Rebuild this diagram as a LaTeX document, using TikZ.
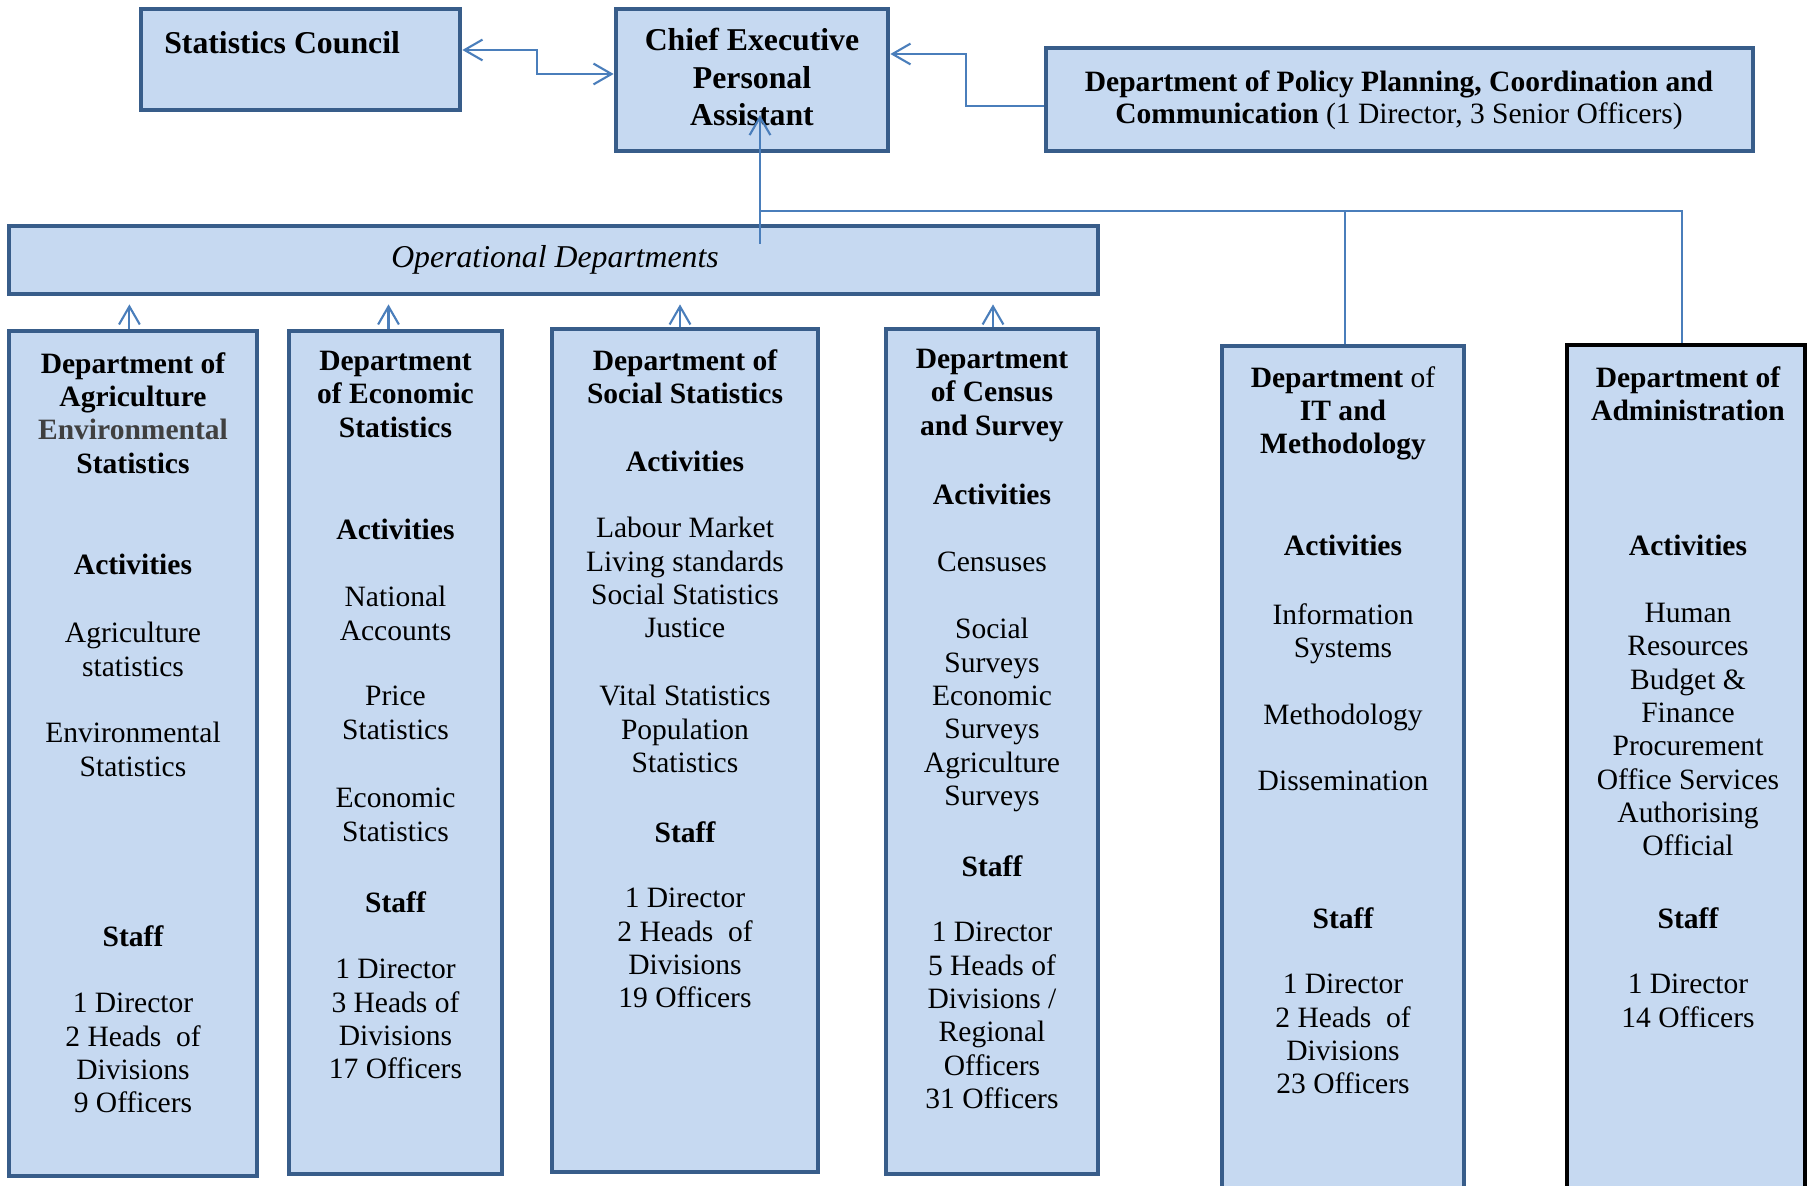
\documentclass[tikz,border=0pt]{standalone}
\usepackage{fontspec}
\setmainfont{Liberation Serif}
\usepackage{tikz}
\usetikzlibrary{fit}
\usetikzlibrary{arrows.meta}

\definecolor{boxline}{HTML}{385D8A}
\definecolor{boxfill}{HTML}{C6D9F1}
\definecolor{linkcol}{HTML}{4A7EBB}
\definecolor{envgray}{HTML}{404040}

\tikzset{
  orgbox/.style={draw=boxline, fill=boxfill, line width=3.4pt, inner sep=0pt},
  blackbox/.style={orgbox, draw=black},
  txt/.style={anchor=north, align=center, inner sep=0pt, font=\fontsize{21}{23.7}\selectfont},
  head/.style={txt, font=\fontsize{21}{23.7}\selectfont\bfseries},
  tophead/.style={txt, font=\fontsize{22.6}{26.7}\selectfont\bfseries},
  link/.style={draw=linkcol, line width=1.5pt},
  tree/.style={draw=linkcol, line width=1.1pt},
  >={Straight Barb[length=4.5mm,width=5.2mm]}
}

\begin{document}
\begin{tikzpicture}[x=0.25mm, y=-0.25mm]
        \useasboundingbox (0,0) rectangle (1808,1186);
        % top row
        \node[orgbox, fit={(141,9) (460,110)}] (sc) {};
        \node[tophead, anchor=north west] (sc-t) at (164,31) {Statistics Council};
        \node[orgbox, fit={(616,9) (888,151)}] (ce) {};
        \node[tophead] (ce-t) at (752,28) {Chief Executive\\Personal\\Assistant};
        \node[orgbox, fit={(1046,48) (1753,151)}] (ppc) {};
        \node[txt, font=\fontsize{21}{22.8}\selectfont] (ppc-t) at (1399,70) {\textbf{Department of Policy Planning, Coordination and}\\\textbf{Communication} (1 Director, 3 Senior Officers)};
        \node[orgbox, fit={(9,226) (1098,294)}] (ops) {};
        \node[txt, anchor=center, font=\fontsize{22.6}{26.7}\selectfont\itshape] (ops-t) at (555,260) {Operational Departments};

        % departments
        \node[orgbox, fit={(9,331) (257,1176)}] (agri) {};
        \node[head] (agri-t) at (133,352) {Department of\\Agriculture\\{\color{envgray}Environmental}\\Statistics};
        \node[head] (agri-a) at (133,554) {Activities};
        \node[txt] (agri-a1) at (133,622) {Agriculture\\statistics};
        \node[txt] (agri-a2) at (133,722) {Environmental\\Statistics};
        \node[head] (agri-s) at (133,925) {Staff};
        \node[txt] (agri-s1) at (133,993) {1 Director\\2 Heads~ of\\Divisions\\9 Officers};

        \node[orgbox, fit={(289,331) (502,1174)}] (econ) {};
        \node[head] (econ-t) at (395.5,351) {Department\\of Economic\\Statistics};
        \node[head] (econ-a) at (395.5,519) {Activities};
        \node[txt] (econ-a1) at (395.5,586) {National\\Accounts};
        \node[txt] (econ-a2) at (395.5,686) {Price\\Statistics};
        \node[txt] (econ-a3) at (395.5,788) {Economic\\Statistics};
        \node[head] (econ-s) at (395.5,891) {Staff};
        \node[txt] (econ-s1) at (395.5,959) {1 Director\\3 Heads of\\Divisions\\17 Officers};

        \node[orgbox, fit={(552,329) (818,1172)}] (soc) {};
        \node[head] (soc-t) at (685,349) {Department of\\Social Statistics};
        \node[head] (soc-a) at (685,451) {Activities};
        \node[txt] (soc-a1) at (685,517) {Labour Market\\Living standards\\Social Statistics\\Justice};
        \node[txt] (soc-a2) at (685,685) {Vital Statistics\\Population\\Statistics};
        \node[head] (soc-s) at (685,821) {Staff};
        \node[txt] (soc-s1) at (685,888) {1 Director\\2 Heads~ of\\Divisions\\19 Officers};

        \node[orgbox, fit={(886,329) (1098,1174)}] (cens) {};
        \node[head] (cens-t) at (992,349) {Department\\of Census\\and Survey};
        \node[head] (cens-a) at (992,484) {Activities};
        \node[txt] (cens-a1) at (992,552) {Censuses};
        \node[txt] (cens-a2) at (992,618) {Social\\Surveys\\Economic\\Surveys\\Agriculture\\Surveys};
        \node[head] (cens-s) at (992,855) {Staff};
        \node[txt] (cens-s1) at (992,922) {1 Director\\5 Heads of\\Divisions /\\Regional\\Officers\\31 Officers};

        \node[orgbox, fit={(1222,346) (1464,1200)}] (itm) {};
        \node[txt] (itm-t) at (1343,366) {\textbf{Department} of\\\textbf{IT and}\\\textbf{Methodology}};
        \node[head] (itm-a) at (1343,535) {Activities};
        \node[txt] (itm-a1) at (1343,603) {Information\\Systems};
        \node[txt] (itm-a2) at (1343,704) {Methodology};
        \node[txt] (itm-a3) at (1343,771) {Dissemination};
        \node[head] (itm-s) at (1343,907) {Staff};
        \node[txt] (itm-s1) at (1343,974) {1 Director\\2 Heads~ of\\Divisions\\23 Officers};

        \node[blackbox, fit={(1567,345) (1805,1200)}] (admin) {};
        \node[head] (admin-t) at (1688,366) {Department of\\Administration};
        \node[head] (admin-a) at (1688,535) {Activities};
        \node[txt] (admin-a1) at (1688,603) {Human\\Resources\\Budget \&\\Finance\\Procurement\\Office Services\\Authorising\\Official};
        \node[head] (admin-s) at (1688,907) {Staff};
        \node[txt] (admin-s1) at (1688,974) {1 Director\\14 Officers};

        % connectors
        \draw[link, <->] (sc.east |- 0,50) -- (537,50) |- (ce.west |- 0,74);
        \draw[link, ->] (ppc.west |- 0,106) -- (966,106) |- (ce.east |- 0,54);
        \coordinate (opsup) at (760,244);
        \coordinate (ceup) at (760,115);
        \coordinate (tee) at (760,211);
        \draw[link, ->] (opsup) -- (ceup);
        \draw[tree] (tee) -| ([xshift=0.5mm]itm.north);
        \draw[tree] (tee) -| ([xshift=-1mm]admin.north);
        \foreach \d/\dx in {agri/-0.9mm, econ/-1.75mm, soc/-1.25mm, cens/0.25mm}
          \draw[link, ->, shorten >=2mm] ([xshift=\dx]\d.north) -- ([xshift=\dx]\d.north |- ops.south);
\end{tikzpicture}
\end{document}
